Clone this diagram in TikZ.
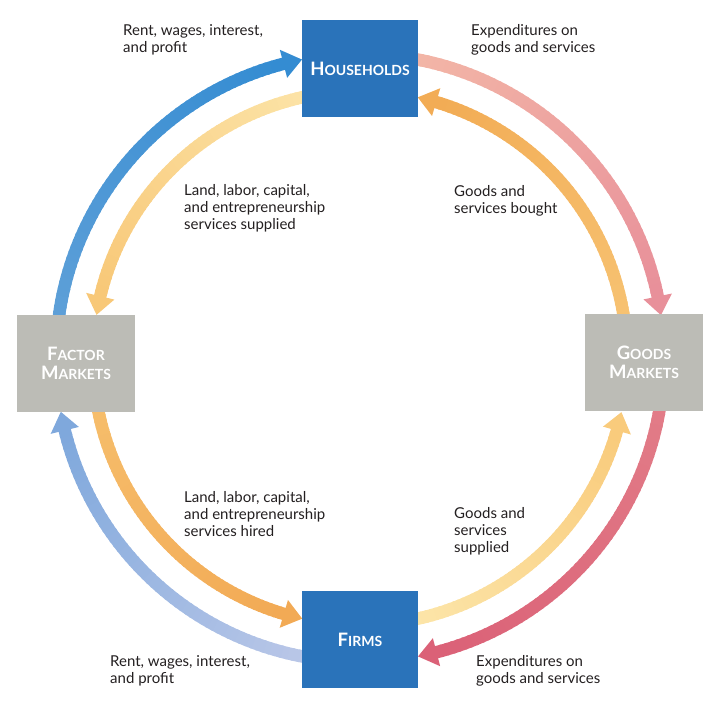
\documentclass[tikz,border=0pt]{standalone}
\usepackage{fontspec}
\setmainfont{Lato}
\usetikzlibrary{calc}
\definecolor{boxblue}{HTML}{2A73BA}
\definecolor{boxgray}{HTML}{BCBCB6}
\definecolor{labeltext}{HTML}{231F20}
\definecolor{blueA}{HTML}{5FA0D8}
\definecolor{blueB}{HTML}{348CD2}
\definecolor{lblueA}{HTML}{BCC8E8}
\definecolor{lblueB}{HTML}{7FA8DC}
\definecolor{pinkA}{HTML}{F3B7A7}
\definecolor{pinkB}{HTML}{E8909A}
\definecolor{redA}{HTML}{E27D88}
\definecolor{redB}{HTML}{DB6177}
\definecolor{ylA}{HTML}{FCE4A8}
\definecolor{ylB}{HTML}{F8C878}
\definecolor{orA}{HTML}{F6BE6C}
\definecolor{orB}{HTML}{F2AA55}
\definecolor{yrA}{HTML}{FCE6AA}
\definecolor{yrB}{HTML}{F9CB7C}
\definecolor{otA}{HTML}{F7C373}
\definecolor{otB}{HTML}{F2AC55}
% #1 radius, #2 start angle, #3 tip angle, #4 start colour, #5 end colour
\newcommand{\flowarc}[5]{%
  \pgfmathsetmacro{\hdl}{19/#1*180/pi}%
  \pgfmathsetmacro{\basea}{#3>#2 ? #3-\hdl : #3+\hdl}%
  \pgfmathsetmacro{\dirs}{#3>#2 ? 1 : -1}%
  \foreach \i in {0,...,59}{%
    \pgfmathsetmacro{\angA}{#2+(\basea-#2)*\i/60}%
    \pgfmathsetmacro{\angB}{#2+(\basea-#2)*(\i+1)/60+0.4*\dirs}%
    \pgfmathtruncatemacro{\pc}{100-\i*100/59}%
    \draw[flowline, color=#4!\pc!#5] (C) ++(\angA:#1) arc[start angle=\angA, end angle=\angB, radius=#1];
  }%
  \fill[#5] ($(C)+(#3:#1)$) -- ($(C)+(\basea:{#1+14.5})$) -- ($(C)+(\basea:{#1-14.5})$) -- cycle;
}
\tikzset{
  flowline/.style={line width=12.5pt, line cap=butt},
  bluebox/.style={fill=boxblue, minimum width=116pt, minimum height=97pt, inner sep=0pt, text=white, align=center},
  graybox/.style={fill=boxgray, minimum width=118pt, minimum height=97pt, inner sep=0pt, text=white, align=center},
  lbl/.style={anchor=north west, inner sep=0pt, align=left, text=labeltext, font=\fontsize{15}{17}\selectfont},
  bigc/.style={font=\fontsize{18.5}{19.5}\selectfont\bfseries}
}
\newcommand{\scx}[1]{{\fontsize{14}{19.5}\selectfont #1}}
\begin{document}
\begin{tikzpicture}[x=1pt,y=1pt]
\useasboundingbox (0,0) rectangle (720,720);
\coordinate (C) at (360,362);
% outer (money) flows
\flowarc{304}{174}{101}{blueA}{blueB}
\flowarc{304}{262}{190.2}{lblueA}{lblueB}
\flowarc{304}{82}{8.1}{pinkA}{pinkB}
\flowarc{304}{-7}{-79}{redA}{redB}
% inner (real) flows
\flowarc{267}{99}{170.7}{ylA}{ylB}
\flowarc{267}{188}{257.5}{orA}{orB}
\flowarc{267}{280}{348.3}{yrA}{yrB}
\flowarc{267}{6}{77.5}{otA}{otB}
% boxes
\node[bluebox, bigc] (hh) at (360,651.5) {H\scx{OUSEHOLDS}};
\node[bluebox, bigc] (firms) at (360,80.5) {F\scx{IRMS}};
\node[graybox, bigc] (factor) at (76,356.5) {F\scx{ACTOR}\\M\scx{ARKETS}};
\node[graybox, bigc] (goods) at (644,357.5) {G\scx{OODS}\\M\scx{ARKETS}};
% labels
\node[lbl] (l1) at (123,696) {Rent, wages, interest,\\and profit};
\node[lbl] (l2) at (471,696) {Expenditures on\\goods and services};
\node[lbl] (l3) at (184,535.5) {Land, labor, capital,\\and entrepreneurship\\services supplied};
\node[lbl] (l4) at (454,534.5) {Goods and\\services bought};
\node[lbl] (l5) at (184,228.5) {Land, labor, capital,\\and entrepreneurship\\services hired};
\node[lbl] (l6) at (454,212.5) {Goods and\\services\\supplied};
\node[lbl] (l7) at (110,64.5) {Rent, wages, interest,\\and profit};
\node[lbl] (l8) at (476,64.5) {Expenditures on\\goods and services};
\end{tikzpicture}
\end{document}
